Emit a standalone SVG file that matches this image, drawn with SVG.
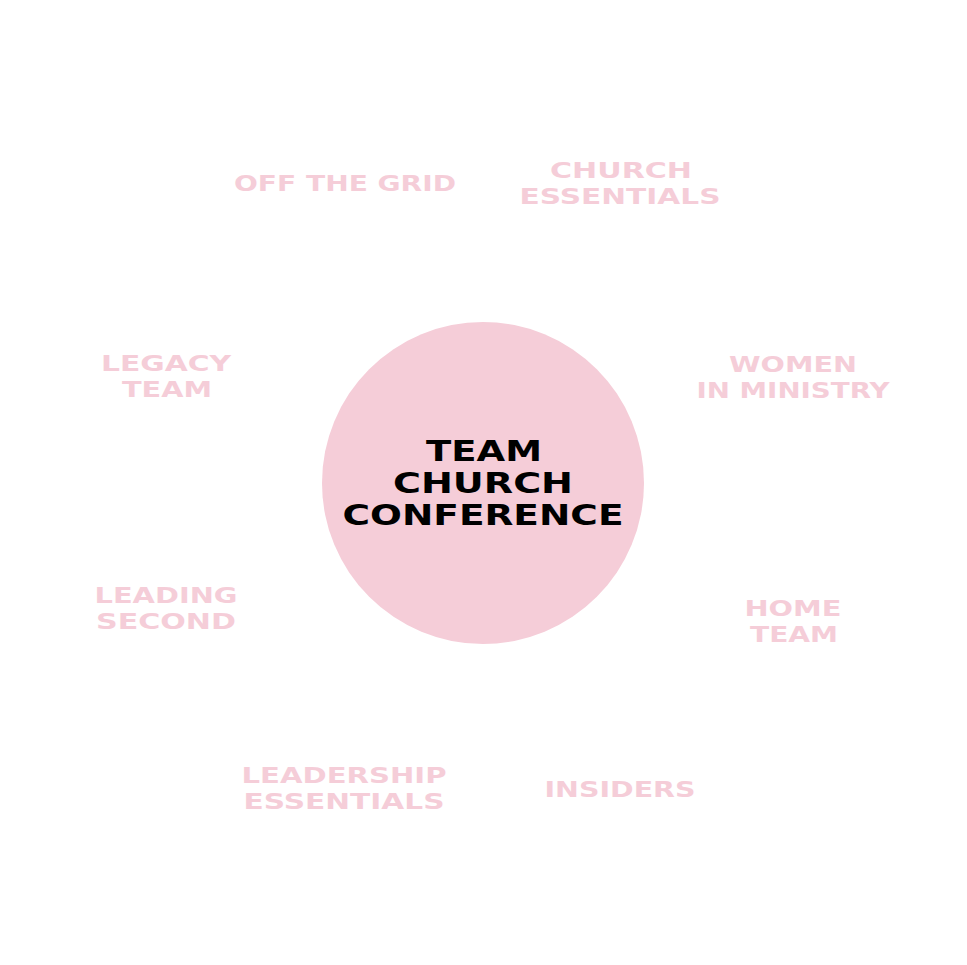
<svg xmlns="http://www.w3.org/2000/svg" width="967" height="965" viewBox="0 0 967 965">
<style>
.l{font-family:"DejaVu Sans","Liberation Sans",sans-serif;font-weight:bold;font-size:22px;fill:#f5cdd8;text-anchor:middle}
.c{font-family:"DejaVu Sans","Liberation Sans",sans-serif;font-weight:bold;font-size:28px;fill:#000;text-anchor:middle}
</style>
<rect width="967" height="965" fill="#fff"/>
<g id="center">
<circle cx="483" cy="483" r="161" fill="#f5cdd8"/>
<text class="c" x="484" y="461" textLength="116" lengthAdjust="spacingAndGlyphs">TEAM</text>
<text class="c" x="483" y="493" textLength="180" lengthAdjust="spacingAndGlyphs">CHURCH</text>
<text class="c" x="483" y="525" textLength="281" lengthAdjust="spacingAndGlyphs">CONFERENCE</text>
</g>
<g id="connectors"/>
<g id="off-the-grid"><text class="l" x="345" y="191" textLength="222" lengthAdjust="spacingAndGlyphs">OFF THE GRID</text></g>
<g id="church-essentials"><text class="l" x="621" y="178" textLength="142" lengthAdjust="spacingAndGlyphs">CHURCH</text><text class="l" x="620" y="204" textLength="201" lengthAdjust="spacingAndGlyphs">ESSENTIALS</text></g>
<g id="legacy-team"><text class="l" x="166" y="371" textLength="130" lengthAdjust="spacingAndGlyphs">LEGACY</text><text class="l" x="167" y="397" textLength="90" lengthAdjust="spacingAndGlyphs">TEAM</text></g>
<g id="women-in-ministry"><text class="l" x="793" y="372" textLength="128" lengthAdjust="spacingAndGlyphs">WOMEN</text><text class="l" x="793" y="398" textLength="193" lengthAdjust="spacingAndGlyphs">IN MINISTRY</text></g>
<g id="leading-second"><text class="l" x="166" y="603" textLength="143" lengthAdjust="spacingAndGlyphs">LEADING</text><text class="l" x="166" y="629" textLength="140" lengthAdjust="spacingAndGlyphs">SECOND</text></g>
<g id="home-team"><text class="l" x="793" y="616" textLength="97" lengthAdjust="spacingAndGlyphs">HOME</text><text class="l" x="794" y="642" textLength="88" lengthAdjust="spacingAndGlyphs">TEAM</text></g>
<g id="leadership-essentials"><text class="l" x="344" y="783" textLength="205" lengthAdjust="spacingAndGlyphs">LEADERSHIP</text><text class="l" x="344" y="809" textLength="201" lengthAdjust="spacingAndGlyphs">ESSENTIALS</text></g>
<g id="insiders"><text class="l" x="620" y="797" textLength="151" lengthAdjust="spacingAndGlyphs">INSIDERS</text></g>
</svg>
